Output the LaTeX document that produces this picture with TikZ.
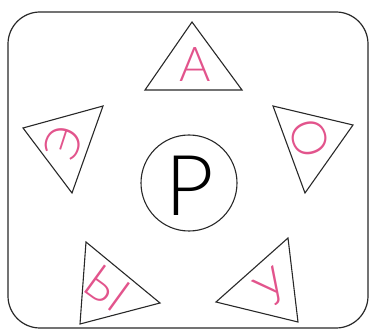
\documentclass[tikz,border=0pt]{standalone}
\usepackage{fontspec}
\setmainfont{Lato}[UprightFont={* Light}]
\definecolor{vowel}{RGB}{226,84,140}
\definecolor{ink}{RGB}{40,40,40}
\tikzset{
  frame/.style={draw=ink, line width=1.2pt},
  tri/.style={draw=ink, line width=1.1pt, line join=miter},
  vow/.style={text=vowel, font=\fontsize{48}{48}\selectfont, inner sep=0pt},
}
\begin{document}
\begin{tikzpicture}[x=1pt,y=-1pt]
\useasboundingbox (0,0) rectangle (373,329);
\draw[frame, rounded corners=32pt] (8,12) rectangle (368,328);
% centre
\node[circle, draw=ink, line width=1.1pt, minimum size=96pt, inner sep=0pt] (c) at (189,183) {};
\node[font=\fontsize{84}{84}\selectfont, inner sep=0pt] (p) at (190,186) {Р};
% triangles
\draw[tri] (192,22) -- (242,90) -- (145,90) -- cycle;
\draw[tri] (23,128) -- (103,106) -- (72,193) -- cycle;
\draw[tri] (353,125) -- (273,106) -- (305,193) -- cycle;
\draw[tri] (80,324) -- (86,242) -- (160,303) -- cycle;
\draw[tri] (298,322) -- (216,302) -- (288,238) -- cycle;
% letters
\node[vow] (a) at (195,65) {А};
\node[vow, rotate=72] (e) at (63,143) {Э};
\node[vow, rotate=-72] (o) at (310,138) {О};
\node[vow, rotate=-36] (y) at (107,288) {Ы};
\node[vow, rotate=36] (u) at (272,287) {У};
\end{tikzpicture}
\end{document}
